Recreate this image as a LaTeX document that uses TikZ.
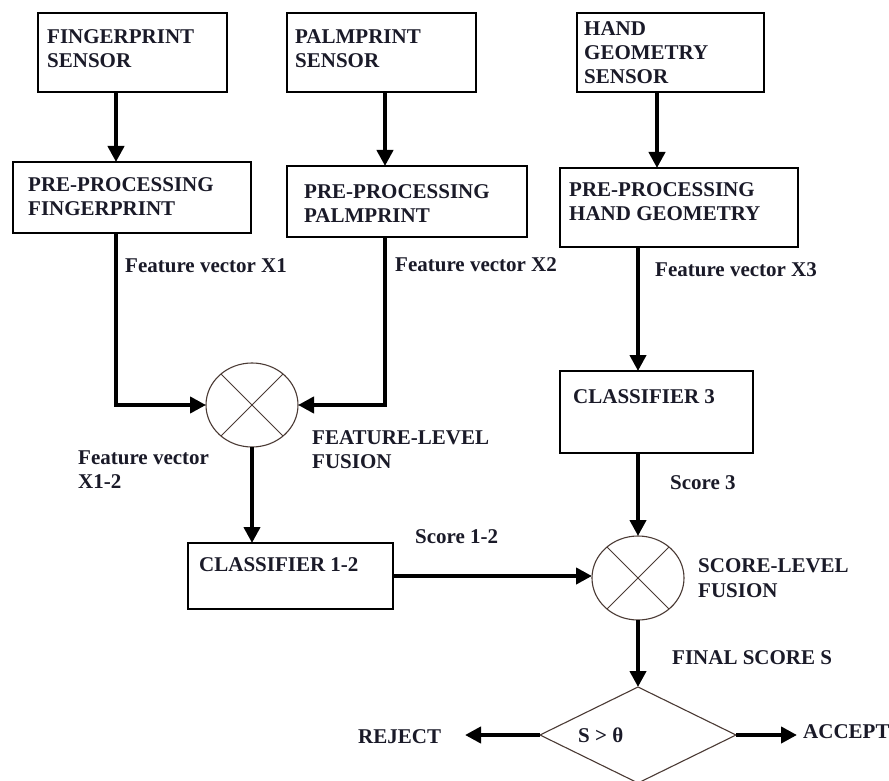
\documentclass[tikz,border=0pt]{standalone}
\usepackage{fontspec}
\setmainfont{Liberation Serif}
\usetikzlibrary{arrows.meta,shapes.geometric,calc}
\definecolor{txtc}{HTML}{1A1A28}
\definecolor{circc}{HTML}{4A3A34}
\begin{document}
\begin{tikzpicture}[x=1pt,y=-1pt,
  box/.style={draw=black, line width=1.3pt, rectangle, inner sep=0pt, outer sep=0pt},
  txt/.style={font=\bfseries\fontsize{21}{24}\selectfont, text=txtc, inner sep=0pt, align=left},
  fuse/.style={draw=circc, line width=1.1pt, ellipse, minimum width=92pt, minimum height=84pt, inner sep=0pt, outer sep=0pt},
  xline/.style={draw=circc, line width=1pt},
  dec/.style={draw=circc, line width=1.1pt, diamond, minimum width=196pt, minimum height=96pt, inner sep=0pt, outer sep=0pt},
  arr/.style={line width=4.8pt, draw=black, -{Triangle[length=16pt,width=16pt]}}
]
\useasboundingbox (0,0) rectangle (889,781);
\clip (0,0) rectangle (889,781);
\fill[white] (0,0) rectangle (889,781);

% column coordinates
\coordinate (xa) at (116,0);
\coordinate (xb) at (385,0);
\coordinate (xc) at (657,0);
\coordinate (xd) at (638,0);
\coordinate (xe) at (252,0);

% boxes
\node[box, minimum width=189pt, minimum height=79pt] (b1) at (132.5,52.5) {};
\node[box, minimum width=189pt, minimum height=79pt] (b2) at (381.5,52.5) {};
\node[box, minimum width=187pt, minimum height=79pt] (b3) at (670.5,52.5) {};
\node[box, minimum width=238pt, minimum height=71pt] (b4) at (132,197.5) {};
\node[box, minimum width=240pt, minimum height=71pt] (b5) at (407,201.5) {};
\node[box, minimum width=238pt, minimum height=79pt] (b6) at (679,207.5) {};
\node[box, minimum width=193pt, minimum height=82pt] (c3) at (656.5,412) {};
\node[box, minimum width=205pt, minimum height=66pt] (c12) at (290.5,576) {};

% box texts
\node[txt, anchor=north west] (b1t) at (47,29) {FINGERPRINT\\SENSOR};
\node[txt, anchor=north west] (b2t) at (295,29) {PALMPRINT\\SENSOR};
\node[txt, anchor=north west] (b3t) at (584,21) {HAND\\GEOMETRY\\SENSOR};
\node[txt, anchor=north west] (b4t) at (28,177) {PRE-PROCESSING\\FINGERPRINT};
\node[txt, anchor=north west] (b5t) at (304,184) {PRE-PROCESSING\\PALMPRINT};
\node[txt, anchor=north west] (b6t) at (569,182) {PRE-PROCESSING\\HAND GEOMETRY};
\node[txt, anchor=west] (c3t) at (573,397) {CLASSIFIER 3};
\node[txt, anchor=west] (c12t) at (199,565) {CLASSIFIER 1-2};

% fusion nodes
\node[fuse] (c1) at (252,405) {};
\draw[xline] (c1.45) -- (c1.225);
\draw[xline] (c1.135) -- (c1.315);
\node[fuse] (c2) at (638,578) {};
\draw[xline] (c2.45) -- (c2.225);
\draw[xline] (c2.135) -- (c2.315);

% decision
\node[dec] (d) at (638,735) {};
\node[txt, anchor=west] (st) at (578,735) {S > θ};

% labels
\node[txt, anchor=west] (fv1) at (125,266) {Feature vector X1};
\node[txt, anchor=west] (fv2) at (395,265) {Feature vector X2};
\node[txt, anchor=west] (fv3) at (655,270) {Feature vector X3};
\node[txt, anchor=north west] (fv12) at (78,451) {Feature vector\\X1-2};
\node[txt, anchor=north west] (flf) at (312,430) {FEATURE-LEVEL\\FUSION};
\node[txt, anchor=west] (s3) at (670,483) {Score 3};
\node[txt, anchor=west] (s12) at (415,537) {Score 1-2};
\node[txt, anchor=north west, font=\bfseries\fontsize{21}{25}\selectfont] (slf) at (698,558) {SCORE-LEVEL\\FUSION};
\node[txt, anchor=west] (fs) at (672,658) {FINAL SCORE S};
\node[txt, anchor=west] (rej) at (358,737) {REJECT};
\node[txt, anchor=west] (acc) at (803,732) {ACCEPT};

\coordinate (rejend) at (465,735);
\coordinate (accend) at (797,735);

% connectors
\draw[arr] (b1.south -| xa) -- (b4.north -| xa);
\draw[arr] (b2.south -| xb) -- (b5.north -| xb);
\draw[arr] (b3.south -| xc) -- (b6.north -| xc);
\draw[arr] (b4.south -| xa) |- (c1.west);
\draw[arr] (b5.south -| xb) |- (c1.east);
\draw[arr] (c1.south) -- (c12.north -| xe);
\draw[arr] (b6.south -| xd) -- (c3.north -| xd);
\draw[arr] (c3.south -| xd) -- (c2.north);
\draw[arr] (c12.east) -- (c12.east -| c2.west);
\draw[arr] (c2.south) -- (d.north);
\draw[arr] (d.west) -- (rejend);
\draw[arr] (d.east) -- (accend);
\end{tikzpicture}
\end{document}
